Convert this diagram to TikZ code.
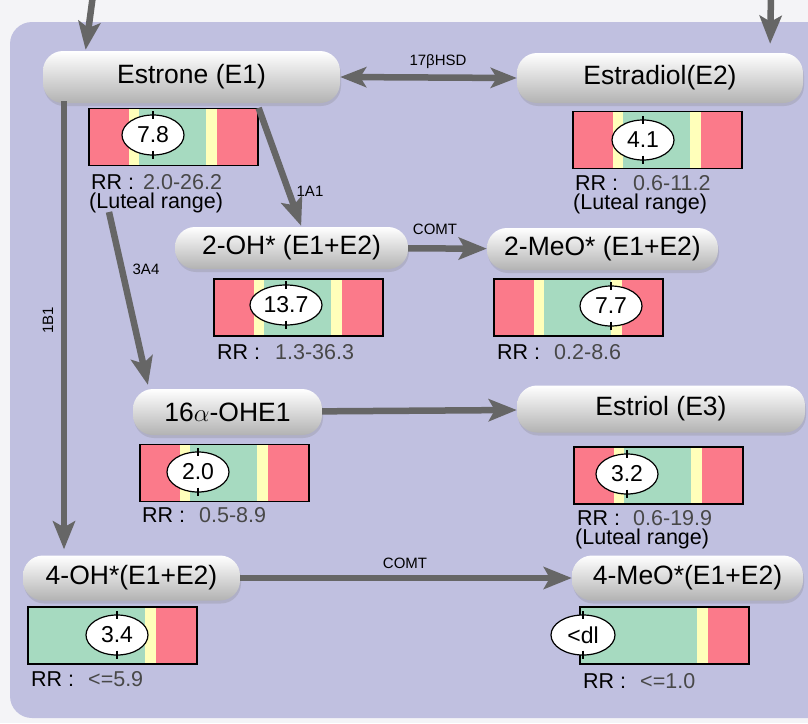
\documentclass[tikz,border=0pt]{standalone}
\usepackage{fontspec}
\setmainfont{Liberation Sans}
\usetikzlibrary{positioning, arrows.meta, shapes.geometric, shadows}

\definecolor{pagegray}{RGB}{244,244,247}
\definecolor{panelblue}{RGB}{192,192,224}
\definecolor{flowgray}{RGB}{102,102,102}
\definecolor{rangered}{RGB}{251,122,138}
\definecolor{rangeyellow}{RGB}{255,255,186}
\definecolor{rangegreen}{RGB}{166,218,192}
\definecolor{valuegray}{RGB}{72,72,72}

\begin{document}
\begin{tikzpicture}
    [
        x=1pt, y=-1pt,
        pill/.style={rectangle, rounded corners=20pt, inner sep=0pt, top color=white, middle color=black!4, bottom color=black!30, drop shadow={opacity=0.25, shadow xshift=1pt, shadow yshift=-3pt}, font=\fontsize{26.5}{30}\selectfont},
        rangebar/.style 2 args={rectangle, draw=black, line width=1.2pt, minimum width=169pt, minimum height=57pt, inner sep=0pt, path picture={
            \fill[rangered] (path picture bounding box.north west) rectangle (path picture bounding box.south east);
            \fill[rangeyellow] ([xshift=#1pt]path picture bounding box.north west) rectangle ([xshift=128pt]path picture bounding box.south west);
            \fill[rangegreen] ([xshift=#2pt]path picture bounding box.north west) rectangle ([xshift=117pt]path picture bounding box.south west);
        }},
        readout/.style={ellipse, draw=black, line width=1.2pt, fill=white, minimum width=62pt, minimum height=40pt, inner sep=0pt, font=\fontsize{23}{26}\selectfont},
        rrlabel/.style={anchor=base west, inner sep=0pt, text height=14pt, text depth=2pt, font=\fontsize{21.5}{24}\selectfont},
        rrvalue/.style={rrlabel, text=valuegray},
        enzyme/.style={inner sep=0pt, font=\fontsize{15}{17}\selectfont},
        flow/.style={draw=flowgray, line width=6.5pt, -{Stealth[length=28pt, width=22pt, inset=6pt]}},
        twoway/.style={flow, {Stealth[length=26pt, width=20pt, inset=6pt]}-{Stealth[length=26pt, width=20pt, inset=6pt]}},
    ]
        \useasboundingbox (0,0) rectangle (808,723);
        \fill[pagegray] (0,0) rectangle (808,723);
        \fill[panelblue, rounded corners=22pt] (10,22) rectangle (830,718);

        % metabolites
        \node[pill, minimum width=297pt, minimum height=52pt] (e1) at (191.5,77) {Estrone (E1)};
        \node[pill, minimum width=286pt, minimum height=50pt] (e2) at (660,78) {Estradiol(E2)};
        \node[pill, minimum width=233pt, minimum height=42pt] (oh2) at (291.5,248) {2-OH* (E1+E2)};
        \node[pill, minimum width=231pt, minimum height=42pt] (meo2) at (602.5,249) {2-MeO* (E1+E2)};
        \node[pill, minimum width=189pt, minimum height=46pt] (ohe16) at (227.5,412) {16$\alpha$-OHE1};
        \node[pill, minimum width=288pt, minimum height=47pt] (e3) at (661,409) {Estriol (E3)};
        \node[pill, minimum width=217pt, minimum height=45pt] (oh4) at (131.5,578) {4-OH*(E1+E2)};
        \node[pill, minimum width=231pt, minimum height=45pt] (meo4) at (687.5,578) {4-MeO*(E1+E2)};

        % reference range bars
        \node[rangebar={40}{50}] (barE1) at (173.5,137) {};
        \node[rangebar={40}{50}] (barE2) at (657.5,140) {};
        \node[rangebar={40}{50}] (barOH2) at (298.5,307.5) {};
        \node[rangebar={40}{50}] (barMeO2) at (578.5,307.5) {};
        \node[rangebar={40}{50}] (barOHE) at (224.5,473) {};
        \node[rangebar={40}{50}] (barE3) at (658.5,475.5) {};
        \node[rangebar={0}{0}] (barOH4) at (112.5,635.5) {};
        \node[rangebar={0}{0}] (barMeO4) at (664.5,635.5) {};

        % measured values
        \node[readout] (rdE1) at (153,135) {7.8};
        \node[readout] (rdE2) at (643,140) {4.1};
        \node[readout, minimum width=72pt] (rdOH2) at (286,305) {13.7};
        \node[readout] (rdMeO2) at (611,306) {7.7};
        \node[readout] (rdOHE) at (198,472) {2.0};
        \node[readout] (rdE3) at (627,474) {3.2};
        \node[readout] (rdOH4) at (117,635) {3.4};
        \node[readout, minimum width=64pt] (rdMeO4) at (583,635) {<dl};
        \foreach \rd in {rdE1, rdE2, rdOH2, rdMeO2, rdOHE, rdE3, rdOH4, rdMeO4}
            \draw[line width=1.2pt] ([yshift=3pt]\rd.north) -- ([yshift=-5pt]\rd.north) ([yshift=5pt]\rd.south) -- ([yshift=-3pt]\rd.south);

        % RR texts
        \node[rrlabel] (rrE1) at (91,189) {RR :};
        \node[rrvalue] (valE1) at (143,189) {2.0-26.2};
        \node[rrlabel] (lutE1) at (89,208) {(Luteal range)};
        \node[rrlabel] (rrE2) at (575,190) {RR :};
        \node[rrvalue] (valE2) at (633,190) {0.6-11.2};
        \node[rrlabel] (lutE2) at (573,209) {(Luteal range)};
        \node[rrlabel] (rrOH2) at (217,359) {RR :};
        \node[rrvalue] (valOH2) at (275,359) {1.3-36.3};
        \node[rrlabel] (rrMeO2) at (497,359) {RR :};
        \node[rrvalue] (valMeO2) at (554,359) {0.2-8.6};
        \node[rrlabel] (rrOHE) at (142,522) {RR :};
        \node[rrvalue] (valOHE) at (199,522) {0.5-8.9};
        \node[rrlabel] (rrE3) at (577,525) {RR :};
        \node[rrvalue] (valE3) at (633,525) {0.6-19.9};
        \node[rrlabel] (lutE3) at (575,544) {(Luteal range)};
        \node[rrlabel] (rrOH4) at (31,686) {RR :};
        \node[rrvalue] (valOH4) at (88,686) {<=5.9};
        \node[rrlabel] (rrMeO4) at (583,688) {RR :};
        \node[rrvalue] (valMeO4) at (640,688) {<=1.0};

        % enzymes
        \node[enzyme] (hsd) at (438,62) {17βHSD};
        \node[enzyme] (cyp1a1) at (310,191) {1A1};
        \node[enzyme] (comtA) at (435,229) {COMT};
        \node[enzyme] (cyp3a4) at (146,269) {3A4};
        \node[enzyme, rotate=90] (cyp1b1) at (48,320) {1B1};
        \node[enzyme] (comtB) at (405,563) {COMT};

        % pathways
        \coordinate (inL) at (93,-5);
        \coordinate (inR) at (771,-5);
        \coordinate (b1start) at (64,101);
        \coordinate (a34start) at (109,212);
        \draw[flow, shorten >=1pt] (inL) -- ([xshift=-106pt]e1.north);
        \draw[flow, shorten >=9pt] (inR) -- ([xshift=110pt]e2.north);
        \draw[twoway] (e1.east) -- (e2.west);
        \draw[flow, shorten >=1pt] (barE1.north east) -- ([xshift=10pt]oh2.north);
        \draw[flow] (oh2) -- (meo2);
        \draw[flow, shorten >=4pt] (a34start) -- ([xshift=16pt]ohe16.north west);
        \draw[flow, shorten >=6pt] (b1start) -- (b1start |- oh4.north);
        \draw[flow] (ohe16) -- (e3);
        \draw[flow] (oh4) -- (meo4);
    \end{tikzpicture}
\end{document}
